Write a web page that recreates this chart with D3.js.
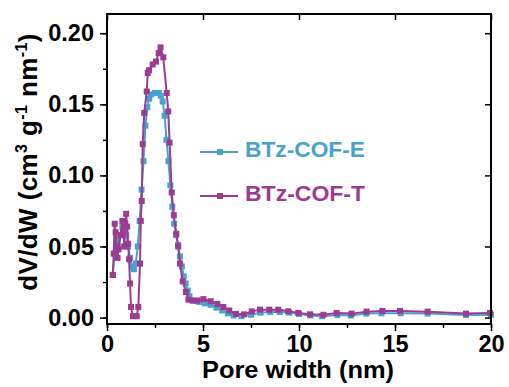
<!DOCTYPE html>
<html>
<head>
<meta charset="utf-8">
<script src="https://cdn.jsdelivr.net/npm/d3@7"></script>
<style>
  body { margin: 0; background: #fff; }
  svg { font-family: "Liberation Sans", Arial, sans-serif; font-weight: bold; }
</style>
</head>
<body>
<svg id="chart" width="509" height="387"></svg>
<script>
// pore width (nm) and dV/dW values
const widthE = [0.3, 0.4, 0.5, 0.6, 0.7, 0.8, 0.9, 1.0, 1.1, 1.2, 1.3, 1.4, 1.5, 1.6, 1.7, 1.8, 1.9, 2.0, 2.1, 2.2, 2.3, 2.5, 2.7, 2.8, 2.9, 3.0, 3.1, 3.2, 3.3, 3.4, 3.5, 3.6, 3.7, 3.8, 3.9, 4.0, 4.1, 4.2, 4.3, 4.5, 4.8, 5.1, 5.4, 5.7, 6.0, 6.3, 6.6, 7.0, 7.5, 8.0, 8.5, 9.0, 9.5, 10.0, 10.6, 11.2, 12.0, 12.7, 13.5, 14.3, 15.3, 16.7, 18.7, 20.0];
const valuesE = [0.030, 0.045, 0.055, 0.050, 0.058, 0.064, 0.062, 0.058, 0.050, 0.042, 0.036, 0.034, 0.038, 0.050, 0.068, 0.090, 0.110, 0.135, 0.148, 0.154, 0.157, 0.158, 0.158, 0.156, 0.152, 0.142, 0.125, 0.110, 0.093, 0.078, 0.066, 0.058, 0.051, 0.043, 0.036, 0.029, 0.024, 0.019, 0.015, 0.012, 0.011, 0.010, 0.009, 0.007, 0.005, 0.003, 0.0015, 0.001, 0.002, 0.0035, 0.004, 0.004, 0.0035, 0.0025, 0.0015, 0.001, 0.0018, 0.0015, 0.0028, 0.003, 0.003, 0.0028, 0.0018, 0.002];

const widthT = [0.3, 0.35, 0.4, 0.45, 0.5, 0.55, 0.6, 0.7, 0.8, 0.85, 0.9, 0.95, 1.0, 1.05, 1.1, 1.15, 1.2, 1.25, 1.35, 1.55, 1.63, 1.72, 1.76, 1.81, 1.86, 1.94, 2.07, 2.12, 2.19, 2.38, 2.55, 2.69, 2.79, 2.93, 3.11, 3.19, 3.26, 3.37, 3.48, 3.61, 3.71, 3.80, 3.94, 4.11, 4.24, 4.46, 4.7, 5.02, 5.40, 5.75, 6.06, 6.37, 6.72, 7.14, 7.54, 7.97, 8.45, 8.92, 9.44, 9.96, 10.57, 11.27, 11.96, 12.74, 13.52, 14.35, 15.26, 16.7, 18.7, 19.95];
const valuesT = [0.030, 0.045, 0.066, 0.060, 0.050, 0.042, 0.048, 0.058, 0.068, 0.060, 0.050, 0.066, 0.073, 0.064, 0.052, 0.041, 0.024, 0.0075, 0.001, 0.001, 0.0075, 0.038, 0.068, 0.082, 0.122, 0.144, 0.159, 0.172, 0.174, 0.178, 0.180, 0.186, 0.190, 0.183, 0.158, 0.145, 0.123, 0.088, 0.072, 0.059, 0.050, 0.038, 0.0255, 0.018, 0.0126, 0.012, 0.012, 0.013, 0.0115, 0.0096, 0.0075, 0.005, 0.0026, 0.0023, 0.0044, 0.0056, 0.0056, 0.0056, 0.0044, 0.0033, 0.0023, 0.002, 0.0033, 0.0028, 0.0042, 0.0047, 0.0047, 0.0042, 0.0028, 0.0033];

const seriesNames = ["BTz-COF-E", "BTz-COF-T"];
const xTicks = [0, 5, 10, 15, 20];
const yTicks = [0.00, 0.05, 0.10, 0.15, 0.20];

const colors = ["#4aa2cc", "#9c3b92"];

const svg = d3.select("#chart");
const margin = { top: 14, right: 18, bottom: 63, left: 107 };
const width = 509 - margin.left - margin.right;
const height = 387 - margin.top - margin.bottom;

const x = d3.scaleLinear().domain([0, 20]).range([0, width]);
const y = d3.scaleLinear().domain([-0.0045, 0.2135]).range([height, 0]);

const g = svg.append("g").attr("transform", `translate(${margin.left},${margin.top})`);

// series
const series = [
  { name: seriesNames[0], xs: widthE, ys: valuesE, color: colors[0] },
  { name: seriesNames[1], xs: widthT, ys: valuesT, color: colors[1] }
];

const line = d3.line().x(d => x(d[0])).y(d => y(d[1]));

series.forEach(s => {
  const pts = s.xs.map((w, i) => [w, s.ys[i]]);
  g.append("path")
   .datum(pts)
   .attr("fill", "none")
   .attr("stroke", s.color)
   .attr("stroke-width", 2)
   .attr("d", line);
  g.selectAll(null)
   .data(pts)
   .enter().append("rect")
   .attr("x", d => x(d[0]) - 3)
   .attr("y", d => y(d[1]) - 3)
   .attr("width", 6)
   .attr("height", 6)
   .attr("fill", s.color);
});

// axes
const axisStyle = sel => {
  sel.select(".domain").remove();
  sel.selectAll("line").attr("stroke", "#000").attr("stroke-width", 1.5);
  sel.selectAll("text").attr("font-size", 23.5).attr("font-weight", "bold").attr("fill", "#000");
};

const xMinor = d3.range(0, 20.1, 2.5);
const yMinor = d3.range(0, 0.201, 0.025);

g.append("g").attr("transform", `translate(0,${height})`)
 .call(d3.axisBottom(x).tickValues(xMinor).tickSize(4).tickFormat(""))
 .call(axisStyle);
g.append("g").attr("transform", `translate(0,${height})`)
 .call(d3.axisBottom(x).tickValues(xTicks).tickSize(7).tickPadding(4).tickFormat(d3.format("d")))
 .call(axisStyle);

g.append("g")
 .call(d3.axisLeft(y).tickValues(yMinor).tickSize(4).tickFormat(""))
 .call(axisStyle);
g.append("g")
 .call(d3.axisLeft(y).tickValues(yTicks).tickSize(7).tickPadding(6).tickFormat(d3.format(".2f")))
 .call(axisStyle);

// top and right ticks point inwards
g.append("g")
 .call(d3.axisTop(x).tickValues(xTicks).tickSize(-6).tickFormat(""))
 .call(axisStyle);
g.append("g").attr("transform", `translate(${width},0)`)
 .call(d3.axisRight(y).tickValues(yTicks).tickSize(-6).tickFormat(""))
 .call(axisStyle);

// frame
g.append("rect")
 .attr("width", width)
 .attr("height", height)
 .attr("fill", "none")
 .attr("stroke", "#000")
 .attr("stroke-width", 2);

// axis titles (the original lettering is a little wider than Arial)
svg.append("text")
 .attr("x", 202)
 .attr("y", 378)
 .attr("font-size", 24)
 .attr("textLength", 192)
 .attr("lengthAdjust", "spacingAndGlyphs")
 .text("Pore width (nm)");

const yTitle = svg.append("text")
 .attr("transform", `translate(37,162) rotate(-90)`)
 .attr("text-anchor", "middle")
 .attr("font-size", 26)
 .attr("letter-spacing", 0.4);
yTitle.append("tspan").text("dV/dW (cm");
yTitle.append("tspan").attr("font-size", 16).attr("dy", -10).text("3");
yTitle.append("tspan").attr("dy", 10).text(" g");
yTitle.append("tspan").attr("font-size", 16).attr("dy", -10).text("-1");
yTitle.append("tspan").attr("dy", 10).text(" nm");
yTitle.append("tspan").attr("font-size", 16).attr("dy", -10).text("-1");
yTitle.append("tspan").attr("dy", 10).text(")");

// legend
const legend = svg.append("g");
series.forEach((s, i) => {
  const ly = 152 + i * 44;
  legend.append("line")
   .attr("x1", 200).attr("x2", 238)
   .attr("y1", ly).attr("y2", ly)
   .attr("stroke", s.color).attr("stroke-width", 2);
  legend.append("rect")
   .attr("x", 217).attr("y", ly - 3)
   .attr("width", 6).attr("height", 6)
   .attr("fill", s.color);
  legend.append("text")
   .attr("x", 245).attr("y", ly + 5)
   .attr("font-size", 21.5)
   .attr("textLength", 120)
   .attr("lengthAdjust", "spacingAndGlyphs")
   .attr("fill", s.color)
   .text(s.name);
});
</script>
</body>
</html>
